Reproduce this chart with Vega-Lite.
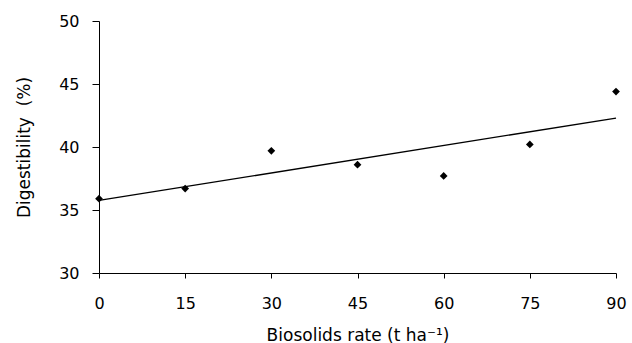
{
  "$schema": "https://vega.github.io/schema/vega-lite/v6.json",
  "width": 517,
  "height": 252,
  "autosize": {"type": "none"},
  "padding": {"left": 99, "top": 21, "right": 16, "bottom": 70},
  "background": "white",
  "config": {
    "view": {"stroke": null},
    "font": "DejaVu Sans",
    "axis": {
      "grid": false,
      "domainColor": "#000",
      "tickColor": "#000",
      "labelColor": "#000",
      "titleColor": "#000",
      "labelFont": "DejaVu Sans",
      "titleFont": "DejaVu Sans",
      "labelFontSize": 16,
      "titleFontSize": 17,
      "titleFontWeight": "normal"
    }
  },
  "data": {
    "values": [
      {"rate": 0, "dig": 35.9},
      {"rate": 15, "dig": 36.7},
      {"rate": 30, "dig": 39.7},
      {"rate": 45, "dig": 38.6},
      {"rate": 60, "dig": 37.7},
      {"rate": 75, "dig": 40.2},
      {"rate": 90, "dig": 44.4}
    ]
  },
  "layer": [
    {
      "transform": [{"regression": "dig", "on": "rate", "extent": [0, 90]}],
      "mark": {"type": "line", "color": "#000", "strokeWidth": 1.3},
      "encoding": {
        "x": {"field": "rate", "type": "quantitative"},
        "y": {"field": "dig", "type": "quantitative"}
      }
    },
    {
      "mark": {"type": "point", "shape": "diamond", "filled": true, "color": "#000", "size": 60, "opacity": 1},
      "encoding": {
        "x": {
          "field": "rate",
          "type": "quantitative",
          "scale": {"domain": [0, 90], "nice": false, "zero": false},
          "axis": {
            "values": [0, 15, 30, 45, 60, 75, 90],
            "title": "Biosolids rate (t ha⁻¹)",
            "tickSize": 5,
            "labelPadding": 17,
            "titlePadding": 16,
            "labelFlush": false
          }
        },
        "y": {
          "field": "dig",
          "type": "quantitative",
          "scale": {"domain": [30, 50], "nice": false, "zero": false},
          "axis": {
            "values": [30, 35, 40, 45, 50],
            "title": "Digestibility\u00a0 (%)",
            "tickSize": 7,
            "labelPadding": 13,
            "titlePadding": 25
          }
        }
      }
    }
  ]
}
